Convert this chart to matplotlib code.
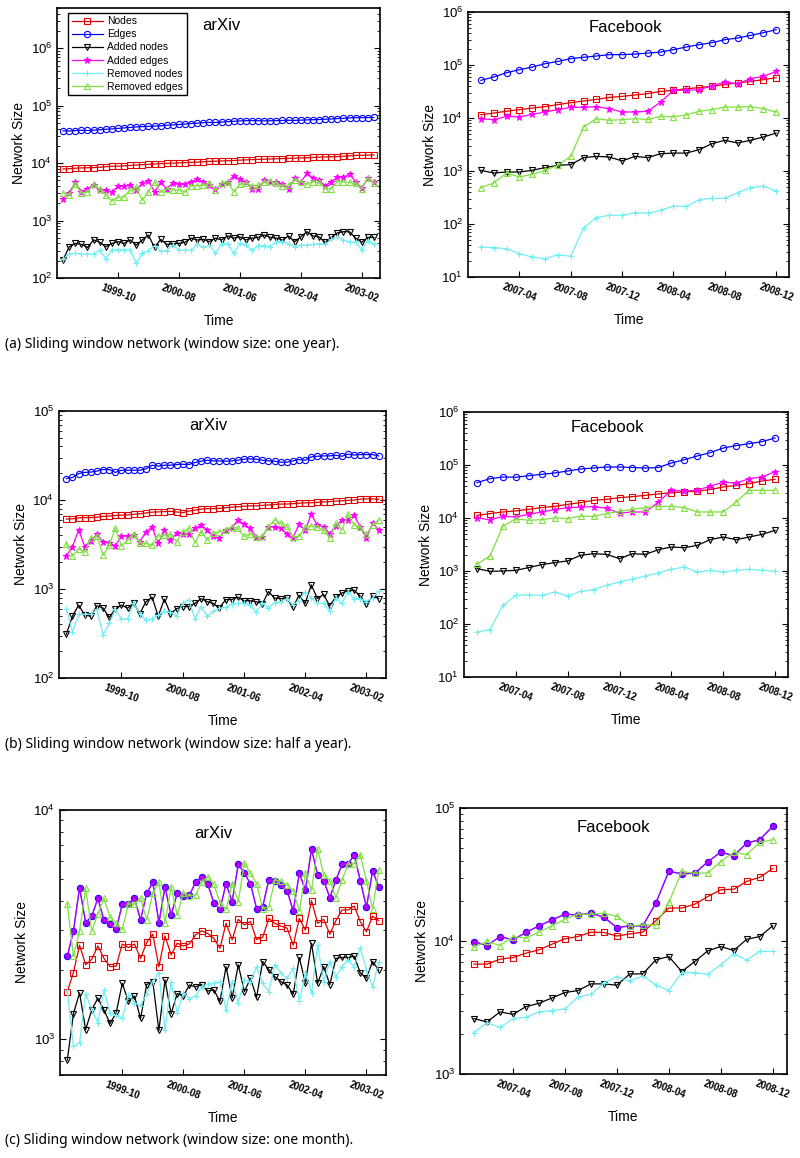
import numpy as np
import matplotlib
matplotlib.use('Agg')
import matplotlib.pyplot as plt
from matplotlib.ticker import NullLocator, NullFormatter

plt.rcParams['font.family'] = ['Liberation Sans', 'DejaVu Sans']
plt.rcParams['mathtext.default'] = 'regular'

# arXiv: monthly points from 1999-01 to 2003-04
arxiv_ticks = [9, 19, 29, 39, 49]
arxiv_ticklabels = ['1999-10', '2000-08', '2001-06', '2002-04', '2003-02']
# Facebook: monthly points from 2007-01 to 2008-12
fb_ticks = [3, 7, 11, 15, 19, 23]
fb_ticklabels = ['2007-04', '2007-08', '2007-12', '2008-04', '2008-08', '2008-12']

labels = ['Nodes', 'Edges', 'Added nodes', 'Added edges', 'Removed nodes', 'Removed edges']

# ---- (a) window size: one year ----
arxiv_year_nodes = [7900, 8000, 8150, 8250, 8300, 8350, 8500, 8650, 8800, 8850, 8950, 9100, 9250, 9400, 9500, 9650, 9800, 9900, 10000, 10100,
                    10200, 10300, 10450, 10550, 10700, 10800, 10900, 11000, 11100, 11250, 11400, 11500, 11600, 11700, 11800, 11900, 12000, 12100,
                    12200, 12300, 12400, 12550, 12700, 12800, 12900, 13000, 13200, 13400, 13600, 13700, 13800, 13900]
arxiv_year_edges = [36500, 36200, 36800, 37300, 37000, 37400, 38000, 38900, 39300, 40200, 41000, 41800, 42600, 43200, 43500, 44100, 44600, 45500,
                    46200, 47100, 47800, 48900, 49600, 50500, 51200, 51000, 51800, 52600, 53500, 54200, 54800, 55000, 54700, 54300, 54600, 54900,
                    55200, 55700, 55400, 56000, 56500, 57000, 57300, 58100, 58700, 59600, 60400, 61300, 61700, 62000, 62100, 62300]
arxiv_year_added_nodes = [208, 350, 400, 385, 340, 460, 420, 350, 400, 430, 400, 460, 375, 460, 560, 340, 470, 385, 395, 400, 420, 495, 460, 470,
                          430, 495, 460, 540, 495, 520, 460, 495, 510, 560, 510, 495, 460, 540, 430, 520, 640, 540, 520, 420, 510, 610, 640, 640,
                          495, 420, 510, 510]
arxiv_year_added_edges = [2400, 3000, 4700, 3150, 3600, 4150, 3450, 3350, 3150, 3950, 3950, 4150, 3400, 4450, 4900, 3150, 4600, 3600, 4450, 4250,
                          4300, 4750, 5250, 4750, 4100, 3500, 4300, 4600, 6000, 5250, 4750, 3600, 3600, 5000, 4750, 4750, 4300, 3600, 5450, 4600,
                          6700, 5450, 5000, 4050, 4750, 5650, 5650, 6400, 4750, 3700, 5450, 4600]
arxiv_year_removed_nodes = [215, 260, 270, 260, 260, 260, 305, 215, 305, 310, 310, 305, 180, 270, 300, 365, 290, 300, 375, 305, 305, 305, 385, 340,
                            375, 270, 395, 395, 270, 400, 375, 305, 365, 365, 350, 430, 430, 395, 350, 375, 375, 385, 395, 385, 470, 520, 460, 420,
                            420, 310, 450, 385]
arxiv_year_removed_edges = [3050, 2800, 4300, 3000, 3150, 4250, 3500, 2800, 2200, 2550, 2600, 3400, 3800, 2250, 3150, 4750, 3150, 3600, 3400, 3400,
                            3150, 4050, 4050, 4150, 4450, 3400, 4450, 4750, 3150, 4250, 4450, 4050, 4100, 4750, 4900, 4450, 3950, 4150, 5150, 4750,
                            4300, 4750, 4600, 3600, 3600, 4750, 4750, 4600, 4450, 3600, 5450, 4450]

fb_year_nodes = [11560, 12400, 13400, 14400, 15400, 16400, 17900, 19500, 20900, 22500, 24500, 25600, 27200, 28800, 31800, 33300, 35800, 37400,
                 39600, 43200, 45700, 49200, 52900, 57700]
fb_year_edges = [51400, 59400, 71600, 81700, 91700, 106000, 117000, 132000, 140000, 148000, 157000, 157000, 161000, 168000, 176000, 195000,
                 219000, 242000, 264000, 301000, 323000, 363000, 407000, 464000]
fb_year_added_nodes = [1030, 917, 957, 957, 1030, 1160, 1280, 1320, 1790, 1890, 1840, 1550, 1890, 1790, 2120, 2180, 2180, 2530, 3280, 3800, 3380,
                       3800, 4380, 5210]
fb_year_added_edges = [9710, 9300, 10700, 10500, 11700, 13000, 14400, 15900, 15900, 16400, 15000, 13000, 13000, 13400, 20000, 33300, 33300, 34200,
                       40700, 47700, 44500, 55200, 61100, 75900]
fb_year_removed_nodes = [36.8, 36, 34, 27.5, 23.8, 22.2, 26.4, 24.6, 85, 132, 146, 146, 164, 160, 181, 218, 214, 288, 305, 305, 390, 485, 521, 420]
fb_year_removed_edges = [485, 594, 917, 770, 865, 1030, 1280, 1890, 6760, 9710, 9040, 9300, 9710, 9400, 10700, 10500, 11500, 13400, 14400, 16100,
                         16100, 16400, 15000, 13000]

# ---- (b) window size: half a year ----
arxiv_half_nodes = [6100, 6150, 6300, 6350, 6350, 6400, 6550, 6600, 6700, 6750, 6800, 6900, 7000, 7150, 7300, 7350, 7400, 7450, 7350, 7200, 7500,
                    7700, 7900, 8000, 8000, 8050, 8200, 8300, 8400, 8500, 8600, 8600, 8700, 8800, 8900, 9000, 9000, 9100, 9200, 9300, 9300, 9400,
                    9500, 9600, 9700, 9800, 9900, 10000, 10200, 10300, 10300, 10200]
arxiv_half_edges = [17400, 17900, 19800, 20400, 20600, 21100, 22000, 22000, 20400, 21600, 21600, 21600, 21600, 22400, 24600, 24000, 24600, 24600,
                    25000, 25200, 25000, 26400, 27300, 28000, 27500, 27500, 27300, 27500, 28000, 28700, 29000, 28700, 28000, 27500, 27300, 26600,
                    26600, 27500, 28500, 28000, 30500, 31000, 31300, 31300, 31800, 31000, 32700, 32000, 32400, 32400, 32400, 31300]
arxiv_half_added_nodes = [310, 495, 660, 510, 495, 650, 610, 480, 595, 660, 610, 690, 530, 720, 810, 495, 770, 530, 600, 635, 635, 690, 780, 720,
                          690, 610, 760, 760, 810, 740, 740, 720, 675, 935, 790, 780, 790, 620, 850, 690, 1110, 780, 870, 650, 810, 900, 950, 970,
                          830, 675, 830, 780]
arxiv_half_added_edges = [2350, 3000, 4600, 3000, 3500, 4100, 3400, 3300, 3050, 3950, 3900, 4000, 3400, 4400, 4950, 3250, 4600, 3550, 4250, 4200,
                          4200, 4800, 5200, 4650, 3900, 3750, 4650, 4800, 5950, 5350, 4800, 3850, 3850, 5000, 4950, 4800, 4200, 3750, 5350, 4550,
                          6900, 5200, 5000, 4200, 5100, 5950, 5950, 6700, 4950, 3750, 5450, 4650]
arxiv_half_removed_nodes = [600, 330, 520, 520, 520, 590, 305, 410, 590, 460, 460, 690, 530, 445, 460, 510, 560, 550, 500, 690, 760, 460, 635, 495,
                            560, 610, 620, 675, 690, 690, 660, 550, 690, 610, 705, 720, 780, 660, 740, 935, 790, 690, 690, 570, 790, 690, 935, 780,
                            780, 720, 790, 950]
arxiv_half_removed_edges = [3200, 2350, 2800, 2600, 3750, 3900, 2400, 3100, 4800, 3050, 3550, 4200, 3300, 3250, 3100, 3950, 4000, 4100, 3400, 4400,
                            4800, 3300, 4400, 3550, 4250, 4400, 4600, 5000, 4800, 3900, 4200, 3850, 3900, 5000, 6000, 5500, 5100, 3850, 3900, 4950,
                            5100, 4950, 4600, 3750, 5450, 4650, 6900, 5200, 4950, 4100, 5200, 6000]

fb_half_nodes = [11200, 12100, 13000, 13600, 14600, 15700, 16600, 18100, 19500, 21600, 22500, 24200, 25300, 26800, 28400, 30100, 31000, 32300,
                 34300, 38500, 41300, 44500, 49900, 53700]
fb_half_edges = [46400, 55200, 59400, 58800, 62900, 66700, 70700, 77100, 84100, 87800, 91700, 91700, 89700, 87800, 89700, 109000, 126000, 148000,
                 171000, 209000, 232000, 253000, 276000, 323000]
fb_half_added_nodes = [1110, 986, 1000, 1030, 1160, 1320, 1440, 1550, 1980, 2120, 2060, 1710, 2120, 2060, 2530, 2840, 2750, 3050, 3900, 4380, 3900,
                       4380, 4920, 5850]
fb_half_added_edges = [10000, 9300, 10700, 10500, 11700, 13000, 14400, 15700, 16100, 16400, 15200, 12400, 13000, 13000, 20000, 33300, 32300, 33300,
                       40200, 47100, 45700, 55200, 59400, 74800]
fb_half_removed_nodes = [70.6, 78, 225, 347, 355, 347, 402, 337, 413, 445, 537, 620, 706, 805, 917, 1075, 1190, 957, 1030, 957, 1030, 1075, 1030, 986]
fb_half_removed_edges = [1340, 1920, 6960, 9710, 9040, 9300, 10000, 9710, 10900, 10700, 12100, 13400, 14600, 15700, 16600, 16600, 15700, 13000,
                         13000, 13000, 20000, 33300, 33300, 33300]

# ---- (c) window size: one month ----
arxiv_month_nodes = [1610, 1950, 2570, 2110, 2230, 2550, 2250, 2070, 2080, 2600, 2510, 2600, 2250, 2640, 2870, 2070, 2820, 2330, 2620, 2550, 2600,
                     2850, 2970, 2890, 2750, 2490, 3200, 2710, 3330, 3150, 3260, 2720, 2780, 3360, 3200, 3110, 3050, 2570, 3360, 2990, 4020, 3200,
                     3330, 2870, 3290, 3660, 3660, 3810, 3250, 2940, 3440, 3290]
arxiv_month_edges = [2300, 2960, 4580, 3220, 3440, 4110, 3310, 3170, 3010, 3870, 3900, 4110, 3310, 4330, 4830, 3220, 4600, 3480, 4330, 4230, 4250,
                     4830, 5120, 4740, 3940, 3680, 4770, 3980, 5810, 5290, 4770, 3710, 3780, 4950, 4900, 4700, 4450, 3620, 5290, 4470, 6750, 5200,
                     4920, 4140, 4950, 5790, 5830, 6360, 4900, 3760, 5420, 4630]
# edges and added edges sit on top of each other in the one-month panels
arxiv_month_added_edges = list(arxiv_month_edges)
arxiv_month_added_nodes = [810, 1290, 1590, 1100, 1340, 1510, 1340, 1170, 1300, 1750, 1460, 1540, 1230, 1730, 1780, 1090, 1810, 1290, 1580, 1540,
                           1720, 1690, 1730, 1620, 1640, 1460, 2070, 1510, 2110, 1610, 1840, 1520, 2180, 2010, 1870, 1780, 1720, 1570, 2270, 1750,
                           2620, 1750, 2070, 1730, 2250, 2270, 2270, 2300, 1940, 1850, 2180, 2000]
arxiv_month_removed_nodes = [1630, 930, 960, 1580, 1340, 1180, 1630, 1300, 1270, 1230, 1560, 1440, 1400, 1580, 1780, 1950, 1090, 1780, 1300, 1590,
                             1500, 1540, 1690, 1740, 1750, 1780, 1340, 1780, 1440, 1810, 1780, 2070, 1750, 1610, 2110, 1940, 1840, 2040, 1460, 1940,
                             1590, 2570, 1780, 2180, 1870, 2070, 2220, 2070, 2490, 2000, 1690, 2160]
arxiv_month_removed_edges = [3890, 2300, 2960, 4550, 2960, 3520, 4110, 3400, 3200, 3010, 3890, 3890, 4110, 3310, 4330, 4830, 3220, 4600, 3480, 4330,
                             4230, 4250, 4830, 5120, 4740, 3940, 3680, 4770, 3980, 5850, 5290, 4770, 3710, 3780, 4950, 4900, 4700, 4450, 3620, 5290,
                             4470, 6780, 5200, 4920, 4140, 4950, 5790, 5830, 6360, 4900, 3700, 5450]

fb_month_nodes = [6700, 6700, 7300, 7510, 8100, 8580, 9470, 10400, 10800, 11650, 11600, 10900, 11300, 11650, 14200, 17700, 17700, 18900, 21600,
                  24300, 24500, 28100, 30100, 35100]
fb_month_edges = [9910, 9250, 10800, 10200, 11600, 13000, 14400, 15900, 15700, 16200, 15100, 12600, 13000, 13000, 19300, 33400, 32000, 32300,
                  39400, 46600, 43800, 54500, 57800, 72800]
fb_month_added_edges = list(fb_month_edges)
fb_month_added_nodes = [2610, 2460, 2930, 2810, 3210, 3400, 3730, 4100, 4240, 4760, 4760, 4650, 5660, 5660, 7220, 7640, 5890, 7010, 8430, 9090,
                        8480, 10300, 10800, 13000]
fb_month_removed_nodes = [2050, 2430, 2240, 2610, 2670, 2930, 3000, 3090, 3780, 3980, 4820, 5400, 5010, 5470, 4680, 4240, 5790, 5790, 5620, 6620,
                          8000, 7220, 8340, 8340]
fb_month_removed_edges = [9000, 9920, 9250, 10800, 10500, 11700, 13000, 14600, 15900, 15900, 16200, 15300, 13000, 13200, 13200, 19500, 33400,
                          32300, 32500, 39600, 46600, 44600, 55200, 57800]

styles = [
    dict(color='#e00000', marker='s', mfc='none'),
    dict(color='#0000ff', marker='o', mfc='none'),
    dict(color='black', marker='v', mfc='none'),
    dict(color='#ff00ff', marker='*', mfc='#ff00ff'),
    dict(color='#70eef5', marker='+', mfc='none'),
    dict(color='#80e040', marker='^', mfc='none'),
]


def draw_panel(rect, series, ylim, xlim, ticks, ticklabels, title, tpos, legend=False, month=False):
    ax = fig.add_axes(rect)
    x = np.arange(len(series[0]))
    for k, (vals, st) in enumerate(zip(series, styles)):
        st = dict(st)
        if month and k == 1:
            st['mfc'] = '#0000ff'
        if month and k == 3:
            ax.plot(x, vals, color='#ff00ff', alpha=0.6, lw=1.0, marker='o', ms=4.3,
                    mfc='#ff00ff', mec='none', label=labels[k])
            continue
        ax.plot(x, vals, color=st['color'], lw=0.9, marker=st['marker'], ms=4.5,
                mfc=st['mfc'], mec=st['color'], mew=0.8, label=labels[k])
    ax.set_yscale('log')
    ax.set_ylim(ylim)
    ax.set_xlim(xlim)
    ax.set_xticks(ticks)
    ax.set_xticklabels(ticklabels, rotation=-20, ha='center', fontsize=7, fontweight='bold')
    ax.xaxis.set_minor_locator(NullLocator())
    ax.yaxis.set_minor_formatter(NullFormatter())
    ax.tick_params(axis='y', which='both', direction='in', right=True, labelsize=9.5)
    ax.tick_params(axis='y', which='major', length=4)
    ax.tick_params(axis='y', which='minor', length=2)
    ax.tick_params(axis='x', direction='in', length=4, pad=3)
    for s in ax.spines.values():
        s.set_linewidth(1.2)
    ax.set_xlabel('Time', fontsize=10, labelpad=7)
    ax.set_ylabel('Network Size', fontsize=10, labelpad=3)
    ax.text(tpos[0], tpos[1], title, transform=ax.transAxes, ha='center', va='center', fontsize=12)
    if legend:
        leg = ax.legend(loc='upper left', bbox_to_anchor=(0.034, 0.983), borderaxespad=0, fontsize=7.5,
                        handlelength=3.0, labelspacing=0.3, borderpad=0.35, handletextpad=0.4,
                        fancybox=False, framealpha=1)
        leg.get_frame().set_edgecolor('black')
        leg.get_frame().set_linewidth(1.0)
    return ax


fig = plt.figure(figsize=(8, 11.58), dpi=100)

draw_panel([0.07125, 0.7599, 0.40375, 0.2332],
           [arxiv_year_nodes, arxiv_year_edges, arxiv_year_added_nodes, arxiv_year_added_edges,
            arxiv_year_removed_nodes, arxiv_year_removed_edges],
           (1e2, 10 ** 6.7), (-1, 52), arxiv_ticks, arxiv_ticklabels, 'arXiv', (0.51, 0.937), legend=True)
draw_panel([0.585, 0.7608, 0.40125, 0.2288],
           [fb_year_nodes, fb_year_edges, fb_year_added_nodes, fb_year_added_edges,
            fb_year_removed_nodes, fb_year_removed_edges],
           (1e1, 1e6), (-1, 24), fb_ticks, fb_ticklabels, 'Facebook', (0.49, 0.94))

draw_panel([0.07375, 0.41451, 0.40875, 0.23057],
           [arxiv_half_nodes, arxiv_half_edges, arxiv_half_added_nodes, arxiv_half_added_edges,
            arxiv_half_removed_nodes, arxiv_half_removed_edges],
           (1e2, 1e5), (-1.2, 52.2), arxiv_ticks, arxiv_ticklabels, 'arXiv', (0.456, 0.944))
draw_panel([0.58, 0.41537, 0.405, 0.22884],
           [fb_half_nodes, fb_half_edges, fb_half_added_nodes, fb_half_added_edges,
            fb_half_removed_nodes, fb_half_removed_edges],
           (1e1, 1e6), (-1, 24), fb_ticks, fb_ticklabels, 'Facebook', (0.444, 0.94))

draw_panel([0.075, 0.07168, 0.4075, 0.22884],
           [arxiv_month_nodes, arxiv_month_edges, arxiv_month_added_nodes, arxiv_month_added_edges,
            arxiv_month_removed_nodes, arxiv_month_removed_edges],
           (10 ** 2.843, 1e4), (-1.2, 52.2), arxiv_ticks, arxiv_ticklabels, 'arXiv', (0.47, 0.913), month=True)
draw_panel([0.575, 0.07254, 0.40875, 0.2297],
           [fb_month_nodes, fb_month_edges, fb_month_added_nodes, fb_month_added_edges,
            fb_month_removed_nodes, fb_month_removed_edges],
           (1e3, 1e5), (-1.08, 24.1), fb_ticks, fb_ticklabels, 'Facebook', (0.468, 0.925), month=True)

captions = ['(a) Sliding window network (window size: one year).',
            '(b) Sliding window network (window size: half a year).',
            '(c) Sliding window network (window size: one month).']
cap_y = [344, 745, 1140]
for c, yy in zip(captions, cap_y):
    fig.text(0.006, 1 - yy / 1158, c, ha='left', va='center', fontsize=10, family=['Noto Sans', 'DejaVu Sans'])

fig.savefig('out.png', dpi=100)
